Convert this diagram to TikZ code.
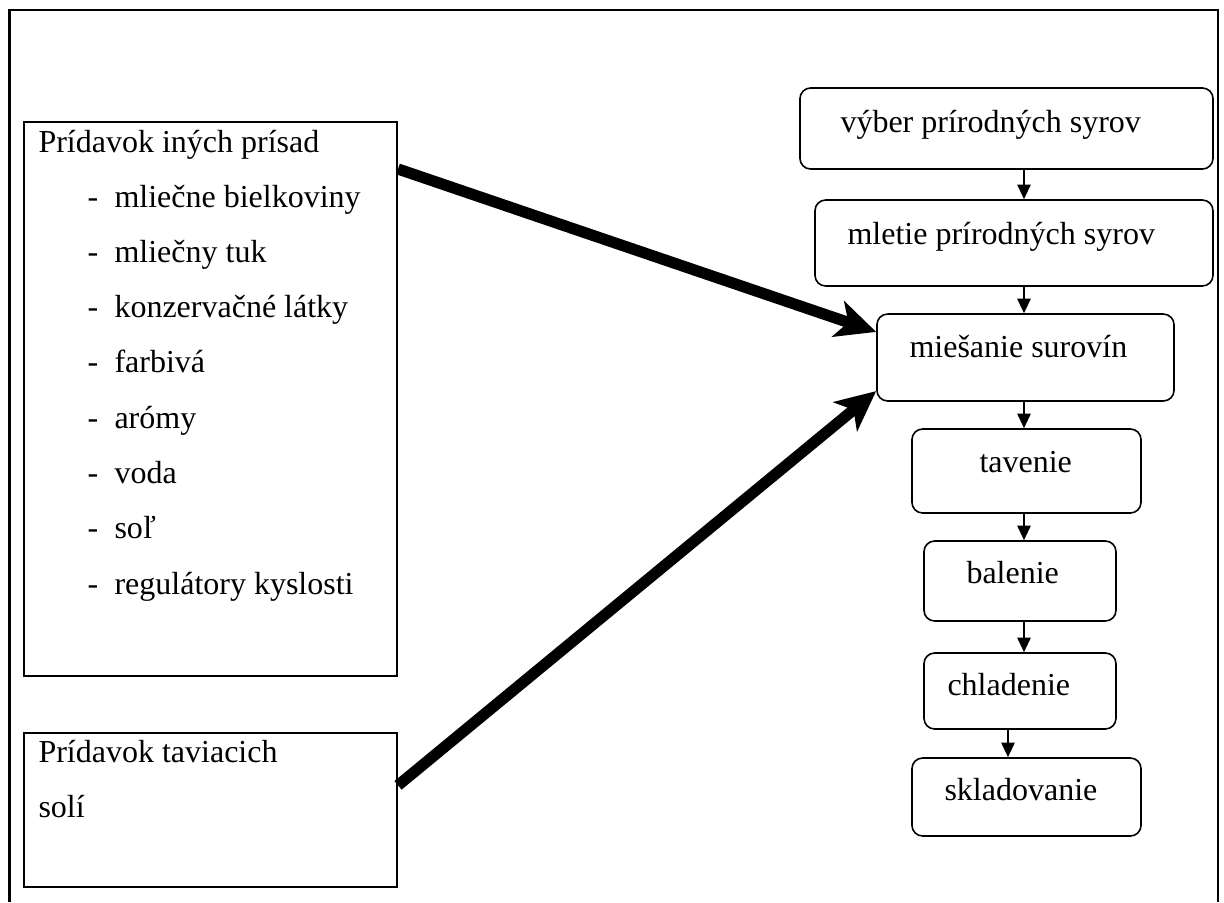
\documentclass[tikz,border=0pt]{standalone}
\usepackage{fontspec}
\setmainfont{Liberation Serif}
\usetikzlibrary{arrows.meta}

\begin{document}
\begin{tikzpicture}[x=0.375pt,y=-0.375pt,
      every node/.style={font=\fontsize{12pt}{14pt}\selectfont, inner sep=0pt},
      plainbox/.style={draw, line width=0.75pt},
      stepbox/.style={draw, line width=0.6pt, rounded corners=4pt},
      txt/.style={anchor=base west},
      flow/.style={line width=0.75pt, -{Triangle[length=5.5pt,width=5pt]}},
      feed/.style={line width=4.2pt, -{Stealth[length=15pt,width=14pt,inset=4pt]}}]
      \useasboundingbox (0,0) rectangle (1224,902);
      \draw[line width=0.9pt] (9.5,902) -- (9.5,10) -- (1218,10) -- (1218,902);
      % left boxes
      \node (ingr) at (210.5,399)  [plainbox, minimum width=139.9pt, minimum height=207.75pt] {};
      \node (salt) at (210.5,810)  [plainbox, minimum width=139.9pt, minimum height=57.75pt] {};
      \node (ingrT) at (38,152) [txt] {Prídavok iných prísad};
      \foreach \what [count=\i] in {mliečne bielkoviny, mliečny tuk, konzervačné látky, farbivá, arómy, voda, soľ, regulátory kyslosti}
      {
        \node (dash\i) at (87,{151.7+55.3*\i}) [txt] {-};
        \node (item\i) at (114,{151.7+55.3*\i}) [txt] {\what};
      }
      \node (saltA) at (38,762) [txt] {Prídavok taviacich};
      \node (saltB) at (38,817) [txt] {solí};
      % process steps
      \node (pick) at (1006.5,128.5)  [stepbox, minimum width=154.9pt, minimum height=30.4pt] {};
      \node (mill) at (1014,243)  [stepbox, minimum width=149.25pt, minimum height=32.25pt] {};
      \node (mix) at (1025.5,357.5)  [stepbox, minimum width=111.4pt, minimum height=32.6pt] {};
      \node (melt) at (1026.5,471)  [stepbox, minimum width=85.9pt, minimum height=31.5pt] {};
      \node (pack) at (1020,581)  [stepbox, minimum width=72pt, minimum height=30pt] {};
      \node (cool) at (1020,691)  [stepbox, minimum width=72pt, minimum height=28.5pt] {};
      \node (store) at (1026.5,797)  [stepbox, minimum width=85.9pt, minimum height=29.25pt] {};
      \node (pickT) at (840,132) [txt] {výber prírodných syrov};
      \node (millT) at (847,244) [txt] {mletie prírodných syrov};
      \node (mixT) at (909,357) [txt] {miešanie surovín};
      \node (meltT) at (979,472) [txt] {tavenie};
      \node (packT) at (966,583) [txt] {balenie};
      \node (coolT) at (947,695) [txt] {chladenie};
      \node (storeT) at (944,800) [txt] {skladovanie};
      \coordinate (axis) at (1024,0);
      \coordinate (axisb) at (1008,0);
      \draw[flow] (pick.south -| axis) to (mill.north -| axis);
      \draw[flow] (mill.south -| axis) to (mix.north -| axis);
      \draw[flow] (mix.south -| axis) to (melt.north -| axis);
      \draw[flow] (melt.south -| axis) to (pack.north -| axis);
      \draw[flow] (pack.south -| axis) to (cool.north -| axis);
      \draw[flow] (cool.south -| axisb) to (store.north -| axisb);
      % thick arrows into mixing
      \draw[feed] ([yshift=-18pt]ingr.north east) to ([yshift=-7pt]mix.north west);
      \draw[feed] ([yshift=-20pt]salt.north east) to ([yshift=4pt]mix.south west);
\end{tikzpicture}
\end{document}
